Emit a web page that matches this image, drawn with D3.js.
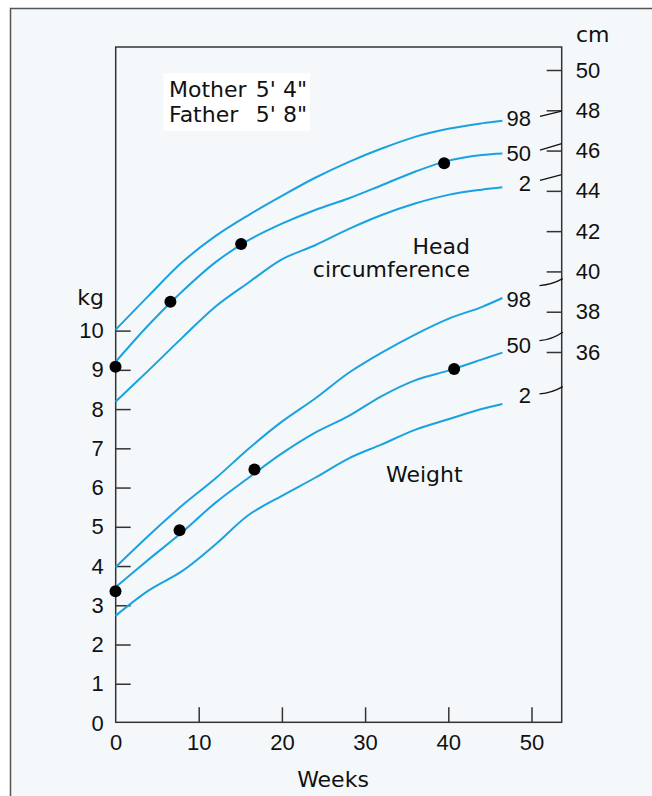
<!DOCTYPE html>
<html><head><meta charset="utf-8">
<script src="https://cdn.jsdelivr.net/npm/d3@7"></script>
<style>
body{margin:0;background:#fff}
text{fill:#111}
.num{font-family:"Liberation Sans",Arial,sans-serif;font-size:22px}
.word{font-family:"DejaVu Sans",sans-serif;font-size:22px}
</style>
</head><body><svg id="c" width="652" height="796"></svg>
<script>
// ---- data ----
const weeks = [0, 4, 8, 12, 16, 20, 24, 28, 32, 36, 40, 44, 46.5];
// head circumference (cm)
const head98 = [37.1, 38.8, 40.45, 41.75, 42.8, 43.75, 44.65, 45.43, 46.1, 46.68, 47.08, 47.35, 47.48];
const head50 = [35.5, 37.35, 39.0, 40.45, 41.55, 42.37, 43.05, 43.62, 44.28, 44.95, 45.5, 45.78, 45.86];
const head2  = [33.53, 35.1, 36.7, 38.25, 39.45, 40.6, 41.3, 42.1, 42.8, 43.37, 43.8, 44.06, 44.18];
// weight (kg)
const weight98 = [3.97, 4.78, 5.54, 6.23, 6.99, 7.68, 8.27, 8.92, 9.44, 9.9, 10.3, 10.6, 10.83];
const weight50 = [3.46, 4.17, 4.86, 5.61, 6.25, 6.87, 7.4, 7.82, 8.33, 8.73, 8.98, 9.26, 9.44];
const weight2  = [2.73, 3.38, 3.87, 4.55, 5.3, 5.79, 6.25, 6.74, 7.1, 7.47, 7.74, 8.0, 8.13];
// measured child
const headDotWeeks = [0, 6.6, 15.1, 39.5];
const headDotCm = [35.27, 38.5, 41.36, 45.37];
const weightDotWeeks = [0, 7.7, 16.7, 40.7];
const weightDotKg = [3.36, 4.91, 6.46, 9.02];
// ticks / labels
const weekTicks = [0, 10, 20, 30, 40, 50];
const kgTicks = [0, 1, 2, 3, 4, 5, 6, 7, 8, 9, 10];
const cmTicks = [36, 38, 40, 42, 44, 46, 48, 50];
const percentiles = ["98", "50", "2"];
// where each percentile's pointer meets the cm axis
const headPointerCm = [47.96, 46.34, 44.8];
const weightPointerCm = [39.64, 36.98, 34.28];
const parents = [["Mother", "5' 4\""], ["Father", "5' 8\""]];

// ---- layout ----
const svg = d3.select("#c");
const L = 115.7, R = 561.7, T = 47, B = 722.3;
const x = d3.scaleLinear().domain([0, 50]).range([115.5, 531.5]);
const yKg = d3.scaleLinear().domain([0, 10]).range([723, 330.6]);
const yCm = d3.scaleLinear().domain([36, 50]).range([352, 70]);
const blue = "#1aa2e0";

// outer frame
svg.append("rect").attr("x", 10.5).attr("y", 8.5).attr("width", 700).attr("height", 900)
  .attr("fill", "#f4f8fb").attr("stroke", "#555").attr("stroke-width", 1.5);
// plot box
svg.append("rect").attr("x", L).attr("y", T).attr("width", R - L).attr("height", B - T)
  .attr("fill", "none").attr("stroke", "#333").attr("stroke-width", 1.5);

// parents box
const pb = svg.append("g");
pb.append("rect").attr("x", 163.3).attr("y", 73.3).attr("width", 146.7).attr("height", 57.4).attr("fill", "#fff");
parents.forEach((p, i) => {
  pb.append("text").attr("class", "word").attr("x", 169).attr("y", 97.3 + i * 24.4).text(p[0]);
  pb.append("text").attr("class", "word").attr("x", 307).attr("y", 97.3 + i * 24.4)
    .attr("text-anchor", "end").text(p[1]);
});

// axes
function styleAxis(g) {
  g.select(".domain").remove();
  g.selectAll(".tick line").attr("stroke", "#333").attr("stroke-width", 1.5)
    .style("display", d => d === 0 ? "none" : null);
  g.selectAll(".tick text").attr("class", "num").attr("fill", "#111");
}
svg.append("g").attr("transform", `translate(${L},0)`)
  .call(d3.axisLeft(yKg).tickValues(kgTicks).tickFormat(d3.format("d")).tickSizeInner(-15).tickSizeOuter(0).tickPadding(12))
  .call(styleAxis);
svg.append("g").attr("transform", `translate(0,${B})`)
  .call(d3.axisBottom(x).tickValues(weekTicks).tickFormat(d3.format("d")).tickSizeInner(-15).tickSizeOuter(0).tickPadding(12))
  .call(styleAxis);
svg.append("g").attr("transform", `translate(${R},0)`)
  .call(d3.axisRight(yCm).tickValues(cmTicks).tickFormat(d3.format("d")).tickSizeInner(-15).tickSizeOuter(0).tickPadding(14))
  .call(styleAxis);
svg.selectAll(".tick text").attr("class", "num").style("fill", "#111");

svg.append("text").attr("class", "word").attr("x", 104).attr("y", 305).attr("text-anchor", "end").text("kg");
svg.append("text").attr("class", "word").attr("x", 576).attr("y", 42).text("cm");
svg.append("text").attr("class", "word").attr("x", 333).attr("y", 787).attr("text-anchor", "middle").text("Weeks");
svg.append("text").attr("class", "word").attr("x", 470).attr("y", 254).attr("text-anchor", "end").text("Head");
svg.append("text").attr("class", "word").attr("x", 470).attr("y", 277).attr("text-anchor", "end").text("circumference");
svg.append("text").attr("class", "word").attr("x", 386).attr("y", 481.7).text("Weight");

// curves
const lineCm = d3.line().x((d, i) => x(weeks[i])).y(d => yCm(d)).curve(d3.curveCatmullRom.alpha(0.5));
const lineKg = d3.line().x((d, i) => x(weeks[i])).y(d => yKg(d)).curve(d3.curveCatmullRom.alpha(0.5));
[head98, head50, head2].forEach(s => svg.append("path").attr("d", lineCm(s))
  .attr("fill", "none").attr("stroke", blue).attr("stroke-width", 2));
[weight98, weight50, weight2].forEach(s => svg.append("path").attr("d", lineKg(s))
  .attr("fill", "none").attr("stroke", blue).attr("stroke-width", 2));

// percentile labels and pointers
const headLabelDy = [5.5, 7.7, 4];
const weightLabelDy = [8.7, 0.3, -1];
[head98, head50, head2].forEach((s, i) => {
  svg.append("text").attr("class", "num").attr("x", 531).attr("y", yCm(s[s.length - 1]) + headLabelDy[i])
    .attr("text-anchor", "end").text(percentiles[i]);
});
[weight98, weight50, weight2].forEach((s, i) => {
  svg.append("text").attr("class", "num").attr("x", 531).attr("y", yKg(s[s.length - 1]) + weightLabelDy[i])
    .attr("text-anchor", "end").text(percentiles[i]);
});
const headStartDy = [5.3, 6.3, 5.6];
const weightStartDy = [7, 8.4, 7.3];
headPointerCm.forEach((c, i) => {
  const ye = yCm(c);
  svg.append("path").attr("d", `M540,${ye + headStartDy[i]} L${R},${ye}`)
    .attr("stroke", "#111").attr("stroke-width", 1.3).attr("fill", "none");
});
weightPointerCm.forEach((c, i) => {
  const ye = yCm(c), ys = ye + weightStartDy[i];
  svg.append("path").attr("d", `M539.5,${ys} Q${552},${ys - 1} ${R + 1},${ye}`)
    .attr("stroke", "#111").attr("stroke-width", 1.3).attr("fill", "none");
});

// dots
svg.append("g").selectAll("circle").data(headDotWeeks).join("circle")
  .attr("cx", (d) => x(d)).attr("cy", (d, i) => yCm(headDotCm[i])).attr("r", 6).attr("fill", "#000");
svg.append("g").selectAll("circle").data(weightDotWeeks).join("circle")
  .attr("cx", (d) => x(d)).attr("cy", (d, i) => yKg(weightDotKg[i])).attr("r", 6).attr("fill", "#000");
</script>
</body></html>
